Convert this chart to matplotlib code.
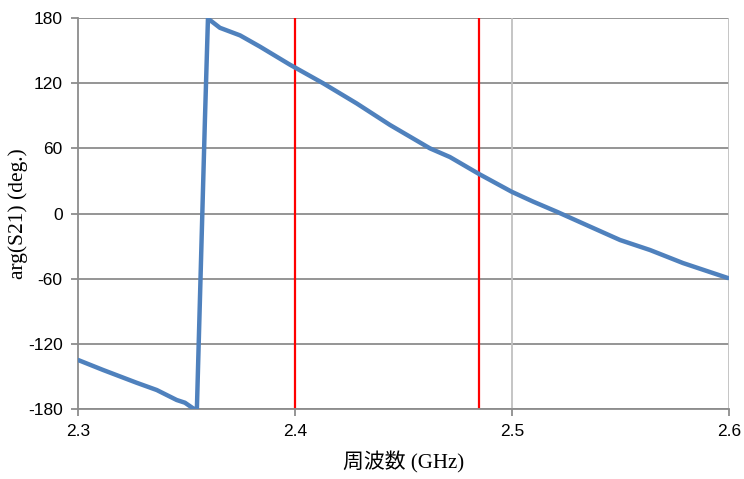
import matplotlib
matplotlib.use("Agg")
import matplotlib.pyplot as plt

# phase data (GHz, deg)
freq = [2.3001, 2.3115, 2.3270, 2.3363, 2.3455, 2.3493, 2.3535, 2.3548,
        2.3585, 2.3599, 2.3654, 2.3747, 2.3839, 2.3977, 2.4129, 2.4284,
        2.4438, 2.4622, 2.4714, 2.4848, 2.4999, 2.5097, 2.5206, 2.5359,
        2.5498, 2.5636, 2.5788, 2.5995]
phase = [-134.9, -144.0, -155.8, -162.5, -171.7, -174.2, -180.0, -180.0,
         86.0, 179.5, 171.0, 164.0, 153.6, 137.0, 120.0, 101.4,
         81.5, 60.0, 52.0, 36.4, 20.0, 11.0, 1.7, -12.0,
         -24.4, -33.6, -45.6, -59.4]

band_edges = [2.4, 2.485]
xticks = [2.3, 2.4, 2.5, 2.6]
yticks = [-180, -120, -60, 0, 60, 120, 180]

fig = plt.figure(figsize=(7.44, 4.79), dpi=100)
ax = fig.add_axes([0.1048, 0.1461, 0.875, 0.8163])

# grid
for y in yticks:
    ax.axhline(y, color="#8c8c8c", lw=1.3, zorder=1)
for x in xticks[1:]:
    ax.axvline(x, color="#c0c0c0", lw=1.3, zorder=1)

for x in band_edges:
    ax.axvline(x, color="#ff0000", lw=1.6, zorder=2)

ax.plot(freq, phase, color="#4f81bd", lw=3.2, solid_capstyle="round",
        solid_joinstyle="round", zorder=3)

ax.set_xlim(2.3, 2.6)
ax.set_ylim(-180, 180)
ax.set_xticks(xticks)
ax.set_yticks(yticks)
ax.set_xticklabels(["2.3", "2.4", "2.5", "2.6"])
ax.set_yticklabels([str(v) for v in yticks])

for s in ["top", "right"]:
    ax.spines[s].set_visible(False)
for s in ["left", "bottom"]:
    ax.spines[s].set_color("#8c8c8c")
    ax.spines[s].set_linewidth(1.3)

ax.tick_params(axis="both", direction="out", length=5, width=1.3,
               color="#8c8c8c", labelsize=12.5, pad=6)
for lab in ax.get_xticklabels() + ax.get_yticklabels():
    lab.set_family("Liberation Sans")

ax.set_xlabel("周波数 (GHz)", family=["Liberation Serif", "Noto Sans CJK JP"],
              fontsize=15, labelpad=9)
ax.set_ylabel("arg(S21) (deg.)", family=["Liberation Serif"], fontsize=15.5)
ax.yaxis.set_label_coords(-0.077, 0.5)

fig.savefig("out.png", dpi=100)
